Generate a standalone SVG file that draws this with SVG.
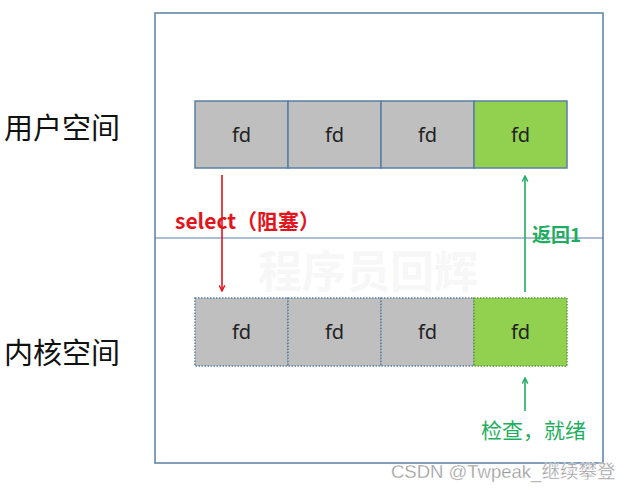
<svg xmlns="http://www.w3.org/2000/svg" width="634" height="491" viewBox="0 0 634 491">
<style>
.cell{stroke:#5b7fa3;stroke-width:1.5}
.g{fill:#bfbfbf}
.gr{fill:#92d050}
.dot{stroke-dasharray:1.5 1.5}
.fd{font-family:"Noto Sans","Liberation Sans",sans-serif;font-size:20px;fill:#222;text-anchor:middle}
.lbl{font-family:"Noto Sans CJK SC",sans-serif;font-size:29px;fill:#111}
</style>
<defs>
<marker id="ar" viewBox="0 0 10 10" refX="9" refY="5" markerWidth="7" markerHeight="7" orient="auto" markerUnits="userSpaceOnUse"><path d="M1,1 L9,5 L1,9" fill="none" stroke="#e3141c" stroke-width="2"/></marker>
<marker id="ag" viewBox="0 0 10 10" refX="9" refY="5" markerWidth="7" markerHeight="7" orient="auto" markerUnits="userSpaceOnUse"><path d="M1,1 L9,5 L1,9" fill="none" stroke="#1fae5f" stroke-width="2"/></marker>
</defs>
<rect width="634" height="491" fill="#fff"/>
<rect x="155" y="13" width="448" height="450" fill="none" stroke="#5b7fa3" stroke-width="1.5"/>
<line x1="155" y1="238" x2="603" y2="238" stroke="#5b7fa3" stroke-width="1.2"/>
<text x="258" y="288" font-family="Noto Sans CJK SC,sans-serif" font-size="44" font-weight="bold" fill="#f7f7f7">程序员回辉</text>
<g id="user-label"><text class="lbl" x="4" y="139">用户空间</text></g>
<g id="kernel-label"><text class="lbl" x="4" y="364">内核空间</text></g>
<g id="user-fd1"><rect class="cell g" x="195" y="101" width="93" height="67"/><text class="fd" x="241.5" y="142">fd</text></g>
<g id="user-fd2"><rect class="cell g" x="288" y="101" width="93" height="67"/><text class="fd" x="334.5" y="142">fd</text></g>
<g id="user-fd3"><rect class="cell g" x="381" y="101" width="93" height="67"/><text class="fd" x="427.5" y="142">fd</text></g>
<g id="user-fd4"><rect class="cell gr" x="474" y="101" width="93" height="67"/><text class="fd" x="520.5" y="142">fd</text></g>
<g id="kern-fd1"><rect class="cell g dot" x="195" y="298" width="93" height="68"/><text class="fd" x="241.5" y="339">fd</text></g>
<g id="kern-fd2"><rect class="cell g dot" x="288" y="298" width="93" height="68"/><text class="fd" x="334.5" y="339">fd</text></g>
<g id="kern-fd3"><rect class="cell g dot" x="381" y="298" width="93" height="68"/><text class="fd" x="427.5" y="339">fd</text></g>
<g id="kern-fd4"><rect class="cell gr dot" x="474" y="298" width="93" height="68" style="stroke:#5a9a3a"/><text class="fd" x="520.5" y="339">fd</text></g>
<g id="connectors">
<line x1="222" y1="175" x2="222" y2="291" stroke="#e3141c" stroke-width="1.6" marker-end="url(#ar)"/>
<line x1="525" y1="292" x2="525" y2="176" stroke="#1fae5f" stroke-width="1.6" marker-end="url(#ag)"/>
<line x1="525" y1="411" x2="525" y2="378" stroke="#1fae5f" stroke-width="1.6" marker-end="url(#ag)"/>
</g>
<g id="select-label"><text x="175" y="229" font-family="Noto Sans CJK SC,sans-serif" font-size="21" font-weight="bold" fill="#e3141c">select（阻塞）</text></g>
<g id="return-label"><text x="532" y="242" font-family="Noto Sans CJK SC,sans-serif" font-size="19" font-weight="bold" fill="#1fae5f">返回1</text></g>
<g id="check-label"><text x="481" y="438" font-family="Noto Sans CJK SC,sans-serif" font-size="21" fill="#1fae5f">检查，就绪</text></g>
<text x="391" y="478" font-family="Liberation Sans,Noto Sans CJK SC,sans-serif" font-size="18.5" fill="#9a9a9a" stroke="#fff" stroke-width="0.3">CSDN @Twpeak_继续攀登</text>
</svg>
